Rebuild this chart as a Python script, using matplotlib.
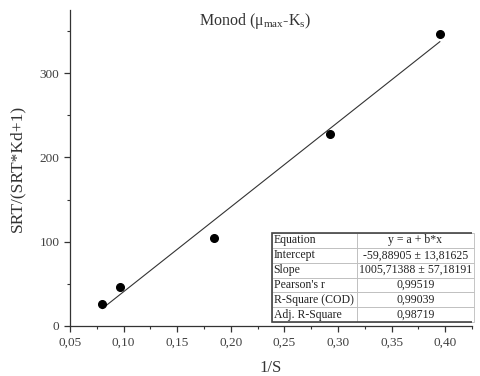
import matplotlib
matplotlib.use("Agg")
import matplotlib.pyplot as plt
from matplotlib.ticker import MultipleLocator, FuncFormatter
from matplotlib.patches import Rectangle

plt.rcParams['font.family'] = ['Liberation Serif', 'DejaVu Serif']
plt.rcParams['mathtext.fontset'] = 'custom'
plt.rcParams['mathtext.rm'] = 'Liberation Serif'
plt.rcParams['mathtext.it'] = 'Liberation Serif'

# data
inv_S = [0.0801, 0.0969, 0.1846, 0.2925, 0.395]
srt_ratio = [26.0, 46.6, 104.0, 227.8, 346.4]
intercept = -59.88905
slope = 1005.71388
table_labels = ["Equation", "Intercept", "Slope", "Pearson's r", "R-Square (COD)", "Adj. R-Square"]
table_values = ["y = a + b*x", "-59,88905 \u00b1 13,81625", "1005,71388 \u00b1 57,18191",
                "0,99519", "0,99039", "0,98719"]

fig = plt.figure(figsize=(4.8, 3.76), dpi=100)
ax = fig.add_axes([70/480, 50/376, 402/480, 316/376])

xf = [min(inv_S), max(inv_S)]
ax.plot(xf, [intercept + slope * v for v in xf], color='#333333', lw=0.8, zorder=2)
ax.plot(inv_S, srt_ratio, 'o', color='black', ms=5.5, zorder=3)

ax.set_xlim(0.05, 0.425)
ax.set_ylim(0, 375)
ax.xaxis.set_major_locator(MultipleLocator(0.05))
ax.xaxis.set_minor_locator(MultipleLocator(0.025))
ax.yaxis.set_major_locator(MultipleLocator(100))
ax.yaxis.set_minor_locator(MultipleLocator(50))
ax.xaxis.set_major_formatter(FuncFormatter(lambda v, p: f"{v:.2f}".replace('.', ',')))
ax.yaxis.set_major_formatter(FuncFormatter(lambda v, p: f"{v:.0f}"))
for s in ['top', 'right']:
    ax.spines[s].set_visible(False)
for s in ['left', 'bottom']:
    ax.spines[s].set_color('#333333')
    ax.spines[s].set_linewidth(0.9)
ax.tick_params(which='major', direction='out', length=4, width=0.9, colors='#333333',
               labelsize=9.5, labelcolor='#404040')
ax.tick_params(which='minor', direction='out', length=2.5, width=0.8, colors='#333333')

ax.set_xlabel("1/S", fontsize=12, color='#333333', labelpad=8)
ax.set_ylabel("SRT/(SRT*Kd+1)", fontsize=12.5, color='#333333', labelpad=10)
ax.set_title(r"Monod ($\mathregular{\mu_{max}}$-K$\mathregular{_s}$)", fontsize=11.5,
             color='#333333', x=(255-70)/402, y=0.925)

tab = ax.table(cellText=[[a, b] for a, b in zip(table_labels, table_values)],
               cellLoc='center', colWidths=[85, 117],
               bbox=[(272-70)/402, (326-322)/316, 202/402, 89/316])
tab.auto_set_font_size(False)
for (r, c), cell in tab.get_celld().items():
    cell.set_fontsize(8.5)
    cell.set_edgecolor('#bbbbbb')
    cell.set_linewidth(0.6)
    cell.get_text().set_color('#222222')
    if c == 0:
        cell.set_text_props(ha='left')
        cell.PAD = 0.02
ax.add_patch(Rectangle(((272-70)/402, (326-322)/316), 202/402, 89/316, transform=ax.transAxes,
                       fill=False, edgecolor='#444444', lw=1.2, zorder=10))

fig.savefig("out.png", dpi=100)
